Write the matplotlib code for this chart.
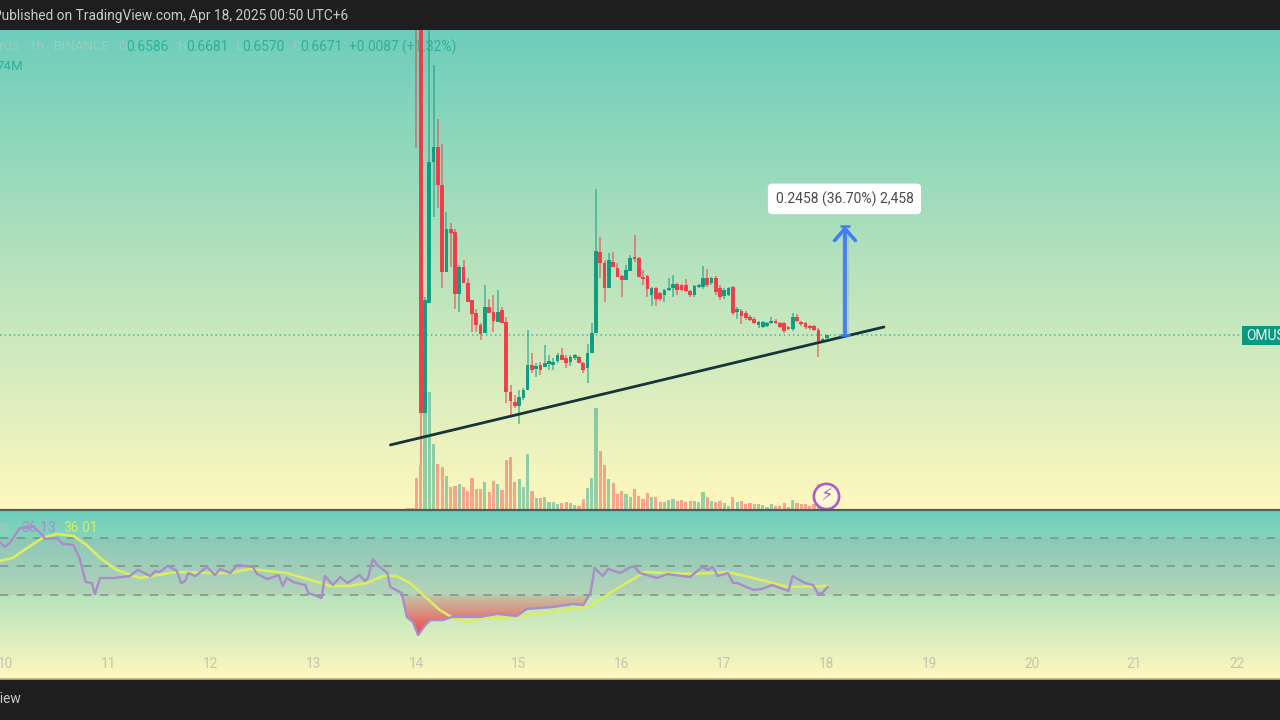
import numpy as np
import matplotlib
matplotlib.use('Agg')
import matplotlib.pyplot as plt
from matplotlib.colors import LinearSegmentedColormap
from matplotlib.path import Path
from matplotlib.patches import Rectangle

plt.rcParams['font.family'] = ['Roboto', 'DejaVu Sans']

# hourly candles, first one opens on day 14
candle_open = [1.40,1.40,.491,.739,1.057,1.091,1.005,.809,.906,.899,.760,.820,.784,.746,.717,.690,.672,.730,.719,.696,.723,.696,.539,.516,.507,.525,.543,.599,.590,.599,.595,.602,.599,.608,.622,.615,.606,.615,.617,.604,.593,.626,.672,.854,.829,.773,.832,.818,.800,.791,.811,.843,.841,.798,.800,.757,.773,.762,.757,.769,.773,.782,.780,.780,.766,.757,.775,.775,.796,.784,.796,.773,.755,.757,.775,.719,.721,.717,.708,.703,.690,.685,.687,.694,.699,.694,.694,.685,.681,.708,.696,.694,.687,.687,.678,.653,.660]
candle_close = [1.38,.491,.746,1.057,1.091,1.005,.809,.906,.897,.760,.820,.784,.741,.714,.690,.669,.730,.717,.699,.719,.694,.539,.518,.507,.527,.543,.599,.588,.597,.588,.604,.608,.606,.622,.611,.604,.617,.622,.604,.588,.626,.672,.856,.829,.773,.836,.820,.798,.791,.814,.841,.838,.798,.793,.771,.773,.748,.748,.769,.773,.782,.769,.769,.766,.757,.778,.780,.796,.780,.796,.764,.753,.769,.773,.717,.726,.710,.705,.701,.694,.696,.696,.694,.699,.694,.685,.676,.681,.708,.699,.692,.685,.683,.678,.653,.658,.667]
candle_high = [1.45,1.45,.753,1.40,1.276,1.154,1.098,.944,.920,.906,.825,.836,.796,.746,.726,.695,.780,.748,.757,.769,.730,.708,.554,.532,.543,.548,.678,.626,.604,.606,.645,.622,.615,.626,.638,.622,.622,.624,.619,.606,.647,.694,.996,.888,.836,.852,.854,.829,.802,.825,.848,.893,.843,.814,.802,.775,.775,.764,.771,.796,.802,.784,.782,.793,.768,.780,.782,.823,.816,.798,.800,.780,.773,.775,.778,.730,.726,.721,.712,.708,.699,.699,.696,.708,.703,.696,.696,.687,.717,.714,.699,.696,.690,.690,.683,.660,.668]
candle_low = [1.089,.374,.491,.739,.933,.953,.773,.809,.820,.726,.719,.784,.741,.674,.674,.656,.672,.717,.674,.696,.694,.514,.487,.502,.466,.521,.543,.581,.572,.577,.595,.588,.588,.604,.611,.593,.597,.611,.604,.581,.559,.626,.672,.796,.741,.773,.820,.798,.753,.791,.811,.832,.798,.780,.753,.732,.732,.744,.741,.767,.753,.757,.766,.764,.753,.753,.773,.771,.775,.780,.757,.746,.748,.755,.712,.703,.692,.701,.699,.692,.683,.683,.685,.692,.692,.683,.672,.678,.676,.696,.687,.681,.678,.676,.617,.653,.658]
volume = [32,45,118,118,66,46,43,34,23,24,26,23,19,32,21,21,28,18,29,26,20,50,53,28,31,23,56,19,12,12,13,8,8,6,7,8,7,5,4,11,22,32,102,59,45,31,27,16,19,16,13,21,14,11,17,13,13,8,8,10,11,9,10,8,9,9,8,18,13,9,8,9,7,4,13,8,9,6,7,6,6,5,3,6,4,4,7,3,10,7,6,6,4,6,26,3,3]
pre_volume = [1, 2, 2]

rsi_day = [9.90,9.99,10.04,10.14,10.27,10.36,10.38,10.50,10.56,10.66,10.72,10.78,10.84,10.87,10.92,11.05,11.21,11.29,11.41,11.46,11.50,11.58,11.67,11.71,11.75,11.78,11.85,11.96,12.04,12.09,12.19,12.26,12.41,12.45,12.55,12.66,12.70,12.74,12.80,12.92,12.95,13.08,13.11,13.19,13.26,13.33,13.45,13.50,13.53,13.58,13.62,13.72,13.75,13.86,13.91,13.97,14.02,14.09,14.14,14.26,14.35,14.62,14.79,14.98,15.08,15.34,15.53,15.63,15.70,15.74,15.82,15.87,15.99,16.09,16.13,16.18,16.25,16.35,16.45,16.67,16.79,16.84,16.89,16.94,17.04,17.09,17.13,17.29,17.37,17.47,17.63,17.67,17.79,17.87,17.92,17.96,18.01]
rsi_val = [70,63.7,66.5,77,77.7,72.1,69.3,70,65.8,65.1,56,39.1,38.4,30.7,41.9,41.9,43.3,47.6,43.3,46.8,46.1,50.4,46.8,38.4,39.8,45.4,43.3,49.7,44,48.3,45.4,51.1,49.7,44.7,41.2,44,36.3,41.9,39.1,37,31.4,27.9,43.3,37,42.6,38.4,44,39.8,41.9,55.3,51.1,45.4,35.6,31.4,14.6,11,1.9,8.9,12.4,12.4,14.6,14.6,16.7,15.3,20.2,21.6,23.7,23,31.4,49,43.3,48.3,45.4,49.7,49.7,45.4,44,41.9,44.7,42.6,49.7,47.6,49.7,43.3,45.4,38.4,38.4,33.5,34.2,37,32.8,43.3,38.4,37,30.7,31.4,35.6]
ma_day = [9.90,10.07,10.21,10.36,10.50,10.66,10.79,10.92,11.08,11.31,11.48,11.67,12.02,12.19,12.38,12.74,12.94,13.16,13.36,13.52,13.68,13.81,13.94,14.07,14.23,14.36,14.50,14.65,14.98,15.31,15.70,15.89,16.23,16.45,16.70,17.03,17.29,17.63,18.01]
ma_val = [53.2,56,63,70,72.8,71.4,65.1,56,47.6,41.9,44,46.1,45.4,45.4,48.3,45.4,41.2,36.3,36.3,38.4,43.3,43.3,38.4,30,19.5,13.9,11,13.9,14.6,18.1,22.3,31.4,46.1,45.4,44.7,46.1,41.9,35.6,36.3]
rsi_levels = [70, 50, 30]
day_ticks = [10, 11, 12, 13, 14, 15, 16, 17, 18, 19, 20, 21, 22]

last_price = 0.6671
measure_move = 0.2458
trend_day = [13.75, 18.56]
trend_price = [0.419, 0.685]
measure_day = 18.18

GREEN = '#089981'
RED = '#f23645'
XMIN, XMAX = 9.945, 22.42
BG = LinearSegmentedColormap.from_list('bg', ['#6ecdbb', '#fff8bf'])


def pane(top, bottom):
    # pixel rows of the 1280x720 picture to figure fractions
    return fig.add_axes([0, 1 - bottom / 720, 1, (bottom - top) / 720])


def paint_bg(ax):
    grad = np.linspace(0, 1, 256).reshape(-1, 1)
    ax.imshow(grad, cmap=BG, aspect='auto', extent=[0, 1, 0, 1], origin='upper',
              transform=ax.transAxes, zorder=0)


fig = plt.figure(figsize=(12.8, 7.2), dpi=100)
fig.patch.set_facecolor('#1e1e1e')

bg_ax = pane(30, 510)
paint_bg(bg_ax)
bg_ax.set_axis_off()

# volume sits under the candles, one unit per pixel row
vol = pane(30, 510)
vol.patch.set_visible(False)
hours = 14 + (np.arange(len(candle_open)) + 0.1) / 24
up = np.array(candle_close) >= np.array(candle_open)
cols = np.where(up, GREEN, RED)
vol.bar(hours, volume, width=0.031, color=cols, alpha=0.42)
vol.bar(14 + (np.arange(-3, 0) + 0.1) / 24, pre_volume, width=0.031, color=RED, alpha=0.42)
vol.set_xlim(XMIN, XMAX)
vol.set_ylim(0, 480)
vol.set_axis_off()

# price pane
ax = pane(30, 510)
ax.patch.set_visible(False)
ax.vlines(hours, candle_low, candle_high, colors=cols, linewidth=1.3, alpha=0.55, zorder=3)
ax.bar(hours, np.array(candle_close) - np.array(candle_open), bottom=candle_open,
       width=0.036, color=cols, alpha=0.92, zorder=4)
ax.axhline(last_price, color=GREEN, linestyle=(0, (1, 2)), linewidth=1.1, alpha=0.65, zorder=2)
ax.plot(trend_day, trend_price, color='#17343a', linewidth=2.0, zorder=5, solid_capstyle='round')

# measure arrow
ax.vlines(measure_day, last_price, last_price + measure_move, color='#9fb4c8', linewidth=5, alpha=0.5, zorder=5)
ax.annotate('', xy=(measure_day, last_price + measure_move), xytext=(measure_day, last_price),
            arrowprops=dict(arrowstyle='->,head_length=0.85,head_width=0.75', color='#3f7ff5',
                            lw=2.6, shrinkA=0, shrinkB=0), zorder=6)
ax.hlines([last_price, last_price + measure_move], measure_day - 0.045, measure_day + 0.045,
          color='#3f7ff5', linewidth=1.8, zorder=6)
ax.text(measure_day - 0.005, last_price + measure_move + 0.061, '0.2458 (36.70%) 2,458', ha='center', va='center',
        fontsize=10, color='#4a4a4a', zorder=8,
        bbox=dict(boxstyle='round,pad=0.55,rounding_size=0.3', fc='white', ec='none'))

ax.set_xlim(XMIN, XMAX)
ax.set_ylim(0.2722, 1.3549)
ax.set_xticks([])
ax.set_yticks([])
for s in ax.spines.values():
    s.set_visible(False)

# lightning badge
ax.scatter([18.0], [0.304], s=330, facecolor='#fff8d4', edgecolor='#a85fc8', linewidth=1.9, zorder=9)
ax.text(18.0, 0.3035, '\u26a1', ha='center', va='center', fontsize=13, color='#a85fc8',
        family='DejaVu Sans', zorder=10)

# rsi pane
rx = pane(510, 679)
paint_bg(rx)
rx.add_patch(Rectangle((0, rsi_levels[2]), 1, rsi_levels[0] - rsi_levels[2], color='#a88fa8', alpha=0.17,
                       linewidth=0, transform=rx.get_yaxis_transform(), zorder=1))
for level in rsi_levels:
    rx.axhline(level, color='#7d8580', linewidth=1.2, linestyle=(0, (5, 5)), alpha=0.8, zorder=2)

rsi_day_a = np.array(rsi_day)
rsi_val_a = np.array(rsi_val)
keep = (rsi_day_a > 13.85) & (rsi_day_a < 15.71)
low_day = rsi_day_a[keep]
low_val = np.minimum(rsi_val_a[keep], rsi_levels[2])
verts = list(zip(low_day, low_val)) + [(low_day[-1], rsi_levels[2]), (low_day[0], rsi_levels[2])]
fill = np.zeros((128, 1, 4))
fill[:, 0, 0] = 0.94
fill[:, 0, 1] = 0.22
fill[:, 0, 2] = 0.27
fill[:, 0, 3] = np.linspace(0.15, 0.95, 128)
img = rx.imshow(fill, aspect='auto', extent=[13.8, 15.75, min(rsi_val), rsi_levels[2]], origin='upper', zorder=3)
img.set_clip_path(Path(verts + [verts[0]]), transform=rx.transData)

rx.plot(ma_day, ma_val, color='#dcec62', linewidth=1.9, zorder=4)
rx.plot(rsi_day, rsi_val, color='#a98cc8', linewidth=1.7, zorder=5)
rx.set_xlim(XMIN, XMAX)
rx.set_ylim(-28.9, 89.6)
rx.set_yticks([])
rx.set_xticks(day_ticks)
rx.set_xticklabels([str(d) for d in day_ticks])
rx.tick_params(axis='x', length=0, pad=-16, labelsize=9.8, labelcolor='#c6c4b0')
for lab in rx.get_xticklabels():
    lab.set_zorder(8)
for s in rx.spines.values():
    s.set_visible(False)
rx.axhline(rx.get_ylim()[1], color='#4f5f5c', linewidth=1.6, zorder=7, clip_on=False)
rx.axhline(rx.get_ylim()[0], color='#b9b38e', linewidth=1.2, zorder=7, clip_on=False)

# chrome text, placed by pixel position
def ptext(x, y, s, **kw):
    fig.text(x / 1280, 1 - y / 720, s, va='center', zorder=20, **kw)


ptext(-7, 16, 'Published on TradingView.com, Apr 18, 2025 00:50 UTC+6', color='#c9c9c9', fontsize=9.9)
ptext(-8, 699, 'View', color='#c9c9c9', fontsize=9.9)

faint = '#9fcbc0'
teal = '#2fb09a'
ptext(108, 47, 'TetherUS · 1h · BINANCE', color=faint, fontsize=9.4, ha='right')
for x, lab, val in [(118, 'O', '0.6586'), (178, 'H', '0.6681'), (236, 'L', '0.6570'), (292, 'C', '0.6671')]:
    ptext(x, 47, lab, color=faint, fontsize=9.6)
    ptext(x + 8 if lab != 'L' else x + 6, 47, val, color=teal, fontsize=10)
ptext(349, 47, '+0.0087 (+1.32%)', color=teal, fontsize=9.9)
ptext(23, 67, '74M', color=teal, fontsize=9.6, ha='right')

ptext(-4, 528, '#)', color='#a6c9bf', fontsize=9.6)
ptext(21, 528, '36.13', color='#a98cc8', fontsize=10)
ptext(63, 528, '36.01', color='#dcec62', fontsize=10)

fig.add_artist(Rectangle((1242 / 1280, 1 - 345 / 720), 40 / 1280, 19 / 720, transform=fig.transFigure,
                         color=GREEN, linewidth=0, zorder=19))
ptext(1246, 336, 'OMUSDT', color='#e8f6f2', fontsize=10)

fig.savefig('out.png', dpi=100, facecolor=fig.get_facecolor())
